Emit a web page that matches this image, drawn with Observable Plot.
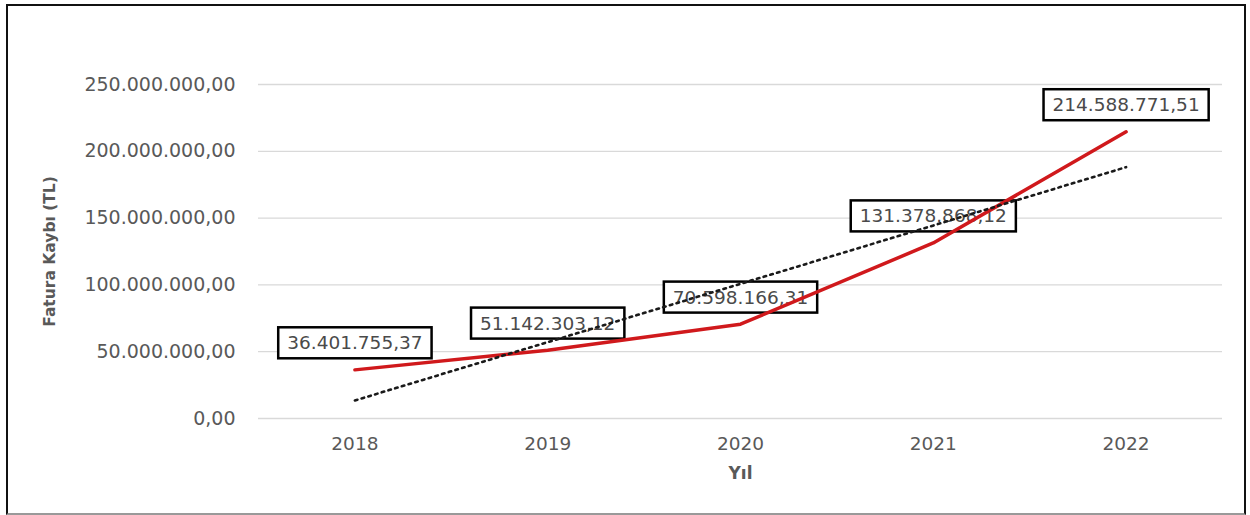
<!DOCTYPE html>
<html>
<head>
<meta charset="utf-8">
<script src="https://cdn.jsdelivr.net/npm/d3@7"></script>
<script src="https://cdn.jsdelivr.net/npm/@observablehq/plot@0.6"></script>
<style>
  html, body { margin: 0; padding: 0; background: #fff; }
  #wrap { position: relative; width: 1250px; height: 515px; }
  #frame { position: absolute; left: 6px; top: 4px; width: 1240px; height: 511px; box-sizing: border-box;
           border: 2px solid #111; border-bottom-color: #999; pointer-events: none; }
</style>
</head>
<body>
<div id="wrap"><div id="frame"></div></div>
<script>
const years = [2018, 2019, 2020, 2021, 2022];
const values = [36401755.37, 51142303.12, 70598166.31, 131378868.12, 214588771.51];
const yTicks = [0, 50000000, 100000000, 150000000, 200000000, 250000000];
const yTitle = "Fatura Kaybı (TL)";
const xTitle = "Yıl";

const tr = d3.formatLocale({decimal: ",", thousands: ".", grouping: [3], currency: ["", ""]});
const fmt = tr.format(",.2f");
const data = years.map((year, i) => ({year, value: values[i]}));
const labelTexts = values.map(v => fmt(v));

const chart = Plot.plot({
  width: 1250,
  height: 515,
  marginLeft: 258,
  marginRight: 28,
  marginTop: 84,
  marginBottom: 97,
  style: {fontFamily: "'DejaVu Sans', sans-serif", background: "transparent"},
  x: {type: "linear", domain: [2017.5, 2022.5]},
  y: {domain: [0, 250000000]},
  marks: [
    Plot.gridY(yTicks, {stroke: "#d9d9d9", strokeOpacity: 1, strokeWidth: 1.3}),
    Plot.axisY(yTicks, {tickFormat: fmt, tickSize: 0, tickPadding: 23, fontSize: 19, fill: "#595959", label: null}),
    Plot.axisX(years, {tickFormat: d => String(d), tickSize: 0, tickPadding: 18, fontSize: 18.5, fill: "#595959", label: null}),
    Plot.text([yTitle], {text: d => d, frameAnchor: "left", dx: -208, rotate: -90, textAnchor: "middle", lineAnchor: "middle", fontWeight: "bold", fontSize: 15.5, fill: "#595959"}),
    Plot.text([xTitle], {text: d => d, frameAnchor: "bottom", dy: 55, textAnchor: "middle", lineAnchor: "middle", fontWeight: "bold", fontSize: 17, fill: "#595959"}),
    Plot.text(data, {x: "year", y: "value", text: d => fmt(d.value), dy: -26.5, lineAnchor: "middle", fill: "#4a4a4a", fontSize: 18.5}),
    Plot.line(data, {x: "year", y: "value", stroke: "#d0191c", strokeWidth: 3.5}),
    Plot.linearRegressionY(data, {x: "year", y: "value", ci: 0, stroke: "#1a1a1a", strokeWidth: 2.6, strokeDasharray: "2.6,4.4"})
  ]
});
const wrap = document.getElementById("wrap");
wrap.insertBefore(chart, wrap.firstChild);

// boxes behind the data labels
chart.querySelectorAll("text").forEach(t => {
  if (!labelTexts.includes(t.textContent)) return;
  const bb = t.getBBox();
  const r = document.createElementNS("http://www.w3.org/2000/svg", "rect");
  const px = 9, py = 5;
  r.setAttribute("x", bb.x - px);
  r.setAttribute("y", bb.y - py);
  r.setAttribute("width", bb.width + 2 * px);
  r.setAttribute("height", bb.height + 2 * py);
  r.setAttribute("fill", "white");
  r.setAttribute("stroke", "#000");
  r.setAttribute("stroke-width", 2.5);
  if (t.getAttribute("transform")) r.setAttribute("transform", t.getAttribute("transform"));
  t.parentNode.insertBefore(r, t);
});
</script>
</body>
</html>
